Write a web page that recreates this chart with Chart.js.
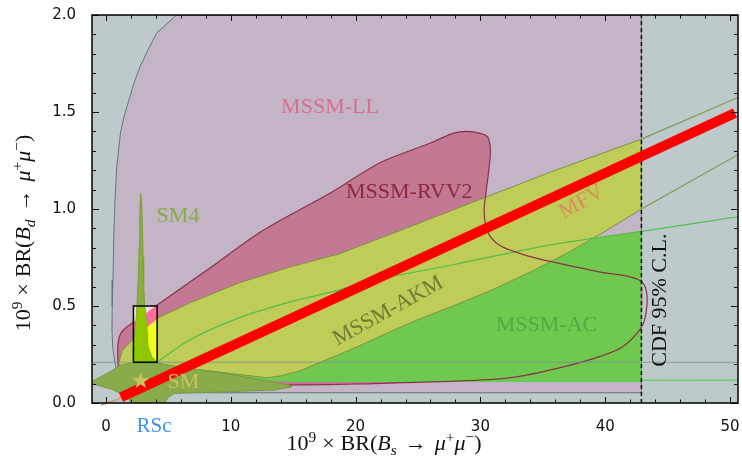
<!DOCTYPE html>
<html><head><meta charset="utf-8">
<script src="https://cdn.jsdelivr.net/npm/chart.js@4/dist/chart.umd.min.js"></script>
<style>html,body{margin:0;padding:0;background:#fff;}#wrap{width:742px;height:469px;}</style>
</head><body><div id="wrap"><canvas id="c" width="742" height="469"></canvas></div>
<script>
// ---- data (axis units: 10^9 x BR) ----
const xTicks = [0, 10, 20, 30, 40, 50];
const yTicks = [0, 0.5, 1.0, 1.5, 2.0];
const xRange = [-1.12, 50.64];
const yRange = [0, 2];
const cdfLimit = 42.9;

const llX = [42.9, 5.66, 4.06, 3.37, 2.72, 2.25, 1.84, 1.46, 1.16, 0.86, 0.72, 0.62, 0.56, 0.5, 0.48, 0.55, 0.72, 1.0, 2.5, 4.8, 5.5, 42.9];
const llY = [2.0, 2.0, 1.907, 1.82, 1.732, 1.65, 1.562, 1.48, 1.392, 1.216, 1.046, 0.84, 0.634, 0.5, 0.376, 0.28, 0.206, 0.12, 0.08, 0.06, 0.053, 0.053];

const rvvX = [1.0, 0.96, 1.3, 2.5, 4.1, 8.1, 12.6, 17.9, 22.0, 26.0, 27.8, 28.9, 30.0, 30.6, 30.8, 30.5, 30.3, 30.6, 31.6, 33.7, 35.6, 39.6, 42.0, 43.0, 43.35, 43.2, 42.8, 41.4, 39.6, 36.9, 32.9, 28.9, 20.0, 15.5, 5.0, 1.5];
const rvvY = [0.15, 0.3, 0.37, 0.43, 0.505, 0.685, 0.89, 1.08, 1.24, 1.34, 1.39, 1.40, 1.39, 1.37, 1.29, 1.11, 0.99, 0.88, 0.81, 0.76, 0.73, 0.675, 0.65, 0.62, 0.55, 0.44, 0.38, 0.29, 0.24, 0.19, 0.135, 0.115, 0.098, 0.093, 0.09, 0.1];

const mfvX = [1.0, 1.3, 2.2, 3.3, 4.2, 6.7, 10.7, 14.7, 18.75, 24.0, 30.0, 35.6, 42.9, 42.9, 40.0, 37.0, 34.0, 31.0, 28.0, 25.0, 22.5, 20.5, 18.5, 16.8, 15.5, 14.0, 12.9, 9.0, 5.0, 2.5, 1.2];
const mfvY = [0.2, 0.27, 0.33, 0.39, 0.44, 0.515, 0.62, 0.70, 0.77, 0.90, 1.05, 1.19, 1.36, 1.0, 0.885, 0.775, 0.675, 0.585, 0.505, 0.43, 0.36, 0.30, 0.245, 0.2, 0.165, 0.14, 0.13, 0.16, 0.19, 0.19, 0.19];
const mfvUpExtX = [42.9, 50.64], mfvUpExtY = [1.36, 1.575];
const mfvLoExtX = [42.9, 50.64], mfvLoExtY = [1.0, 1.28];

const acX = [4.1, 6.7, 10.7, 14.7, 17.9, 22.0, 27.6, 35.6, 42.9, 42.9, 15.0, 4.1];
const acY = [0.21, 0.325, 0.44, 0.52, 0.57, 0.64, 0.71, 0.815, 0.885, 0.108, 0.108, 0.15];
const acEdgeX = [4.1, 6.7, 10.7, 14.7, 17.9, 22.0, 27.6, 35.6, 42.9, 50.64];
const acEdgeY = [0.21, 0.325, 0.44, 0.52, 0.57, 0.64, 0.71, 0.815, 0.885, 0.96];
const acFloorX = [15.0, 50.64], acFloorY = [0.112, 0.118];

const smX = [-1.15, 0.16, 1.2, 2.0, 4.1, 5.0, 7.0, 9.2, 12.4, 14.6, 14.9, 13.5, 9.2, 5.5, 5.0, 4.6, 2.1, 1.76, 0.5, -1.15];
const smY = [0.11, 0.155, 0.196, 0.206, 0.206, 0.196, 0.175, 0.155, 0.12, 0.093, 0.083, 0.067, 0.057, 0.05, 0.03, -0.01, -0.01, 0.03, 0.07, 0.1];

const sm4X = [2.78, 2.86, 2.92, 2.97, 3.02, 3.1, 3.2, 3.27, 3.37, 3.66, 4.1, 2.2, 2.2, 2.35, 2.45, 2.52, 2.6, 2.65, 2.7, 2.74];
const sm4Y = [1.08, 1.02, 0.9, 0.75, 0.6, 0.5, 0.45, 0.39, 0.29, 0.24, 0.21, 0.21, 0.3, 0.39, 0.46, 0.55, 0.65, 0.8, 0.95, 1.04];

const rscBoxX = [2.2, 4.1], rscBoxY = [0.21, 0.5];
const expLineY = 0.21;
const fitX = [1.2, 50.4], fitY = [0.03, 1.495];
const smLineX = [-0.4, 1.2], smLineY = [-0.01, 0.025];
const rscX = 3.85;

// ---- text annotations ----
const regionLabels = [
  {t: 'MSSM-LL', x: 17.95, y: 1.525, c: '#d8708f'},
  {t: 'MSSM-RVV2', x: 24.3, y: 1.087, c: '#8b2a3a'},
  {t: 'SM4', x: 5.77, y: 0.964, c: '#88ab45'},
  {t: 'MFV', x: 38.1, y: 1.036, c: '#d88e5e', rot: -30},
  {t: 'MSSM-AKM', x: 22.6, y: 0.474, c: '#6e7c34', rot: -29},
  {t: 'MSSM-AC', x: 35.3, y: 0.40, c: '#4dab48'},
  {t: 'CDF 95% C.L.', x: 44.4, y: 0.53, c: '#111111', rot: -90},
  {t: '\u2605', x: 2.8, y: 0.108, c: '#c9c45c'},
  {t: 'SM', x: 6.2, y: 0.108, c: '#c9c45c'}
];

// ---- helpers ----
const pts = (xs, ys) => xs.map((x, i) => ({x, y: ys[i]}));
const closed = p => p.concat([p[0]]);
function clipRect(poly, x0, x1, y0, y1) {
  const edges = [
    [p => p.x >= x0, (a, b) => ({x: x0, y: a.y + (x0 - a.x) / (b.x - a.x) * (b.y - a.y)})],
    [p => p.x <= x1, (a, b) => ({x: x1, y: a.y + (x1 - a.x) / (b.x - a.x) * (b.y - a.y)})],
    [p => p.y >= y0, (a, b) => ({x: a.x + (y0 - a.y) / (b.y - a.y) * (b.x - a.x), y: y0})],
    [p => p.y <= y1, (a, b) => ({x: a.x + (y1 - a.y) / (b.y - a.y) * (b.x - a.x), y: y1})]
  ];
  let out = poly;
  for (const [inside, cut] of edges) {
    const inp = out; out = [];
    for (let i = 0; i < inp.length; i++) {
      const cur = inp[i], prev = inp[(i + inp.length - 1) % inp.length];
      const ci = inside(cur), pi = inside(prev);
      if (ci) { if (!pi) out.push(cut(prev, cur)); out.push(cur); }
      else if (pi) out.push(cut(prev, cur));
    }
  }
  return out;
}
function ds(data, o) {
  return {
    data, fill: o.fill ? 'shape' : false,
    backgroundColor: o.fill || 'rgba(0,0,0,0)',
    borderColor: o.stroke || 'rgba(0,0,0,0)',
    borderWidth: o.stroke ? (o.w || 1) : 0,
    borderDash: o.dash || [], borderCapStyle: 'butt',
    pointRadius: 0, tension: o.tension || 0, clip: o.noclip ? false : undefined
  };
}

const llPoly = pts(llX, llY);
const rvvPoly = pts(rvvX, rvvY);
const mfvPoly = pts(mfvX, mfvY);
const acPoly = pts(acX, acY);
const smPoly = pts(smX, smY);
const sm4Poly = pts(sm4X, sm4Y);
const bx = [rscBoxX[0], rscBoxX[1], rscBoxY[0], rscBoxY[1]];

const layers = [
  ds(closed(llPoly), {fill: '#c3b5c5', stroke: '#66767c', w: 1}),
  ds(closed(clipRect(rvvPoly, xRange[0], cdfLimit, -1, 3)), {fill: '#c37894', tension: 0.3}),
  ds(closed(acPoly), {fill: '#6fc94e'}),
  ds(closed(mfvPoly), {fill: '#bfcd58', stroke: '#7d9443', w: 1}),
  ds(pts(acEdgeX, acEdgeY), {stroke: '#4fbf4c', w: 1.2, tension: 0.3}),
  ds(pts(acFloorX, acFloorY), {stroke: '#5fcf5a', w: 1.2}),
  ds(pts(mfvUpExtX, mfvUpExtY), {stroke: '#7f9a45', w: 1.2}),
  ds(pts(mfvLoExtX, mfvLoExtY), {stroke: '#7f9a45', w: 1.2}),
  ds(closed(rvvPoly), {stroke: '#8a3346', w: 1.2, tension: 0.3}),
  ds(pts(xRange, [expLineY, expLineY]), {stroke: 'rgba(120,140,142,0.75)', w: 1}),
  ds(closed(smPoly), {fill: '#8aab4c', stroke: '#779a45', w: 1}),
  ds(closed(clipRect(llPoly, ...bx)), {fill: '#f6dce8'}),
  ds(closed(clipRect(rvvPoly, ...bx)), {fill: '#ff6c9b'}),
  ds(closed(clipRect(mfvPoly, ...bx)), {fill: '#f3ff1c'}),
  ds(closed(sm4Poly), {fill: '#8cae3e', stroke: '#7d9e3a', w: 1}),
  ds(closed(clipRect(sm4Poly, ...bx)), {fill: '#8fc800'}),
  ds(pts([bx[0], bx[1], bx[1], bx[0], bx[0]], [bx[2], bx[2], bx[3], bx[3], bx[2]]), {stroke: '#000', w: 1.5}),
  ds(pts([cdfLimit, cdfLimit], yRange), {stroke: '#111', w: 1.5, dash: [4, 3]}),
  ds(pts(smLineX, smLineY), {stroke: '#cf9a68', w: 1.6, noclip: true}),
  ds(pts(fitX, fitY), {stroke: '#ff0000', w: 10})
];
layers.forEach((d, i) => { d.order = layers.length - i; });

const SERIF = '"Liberation Serif", "DejaVu Serif", serif';
function drawRich(ctx, parts, size) {
  let w = 0;
  const segs = parts.map(p => {
    if (p.g) { w += p.g; return {g: p.g}; }
    const s = p.pos ? size * 0.7 : size;
    const f = (p.it ? 'italic ' : '') + s + 'px ' + SERIF;
    ctx.font = f;
    const m = ctx.measureText(p.t).width;
    w += m;
    return {t: p.t, f, m, dy: p.pos === 'sup' ? -size * 0.38 : p.pos === 'sub' ? size * 0.22 : 0};
  });
  let x = -w / 2;
  for (const s of segs) {
    if (s.g) { x += s.g; continue; }
    ctx.font = s.f; ctx.fillText(s.t, x, s.dy); x += s.m;
  }
}
const titleParts = sub => [
  {t: '10'}, {t: '9', pos: 'sup'}, {g: 6}, {t: '\u00d7'}, {g: 6}, {t: 'BR('}, {t: 'B', it: true}, {t: sub, it: true, pos: 'sub'},
  {g: 8}, {t: '\u2192'}, {g: 8}, {t: '\u03bc', it: true}, {t: '+', pos: 'sup'}, {t: '\u03bc', it: true}, {t: '\u2212', pos: 'sup'}, {t: ')'}
];

const decor = {
  id: 'decor',
  beforeDatasetsDraw(chart) {
    const {ctx, chartArea: a} = chart;
    ctx.save(); ctx.fillStyle = '#bdc9cb'; ctx.fillRect(a.left, a.top, a.right - a.left, a.bottom - a.top); ctx.restore();
  },
  afterDatasetsDraw(chart) {
    const {ctx, scales: {x, y}} = chart;
    ctx.save();
    ctx.textAlign = 'center'; ctx.textBaseline = 'middle';
    for (const L of regionLabels) {
      ctx.save();
      ctx.translate(x.getPixelForValue(L.x), y.getPixelForValue(L.y));
      if (L.rot) ctx.rotate(L.rot * Math.PI / 180);
      ctx.fillStyle = L.c;
      ctx.font = '22px ' + SERIF;
      ctx.fillText(L.t, 0, 0);
      ctx.restore();
    }
    ctx.restore();
  },
  afterDraw(chart) {
    const {ctx, chartArea: a, scales: {x, y}} = chart;
    ctx.save();
    ctx.strokeStyle = '#111'; ctx.lineWidth = 1;
    ctx.beginPath();
    for (let v = 0; v <= 50; v += 2) {
      const px = Math.round(x.getPixelForValue(v)) + 0.5;
      const len = v % 10 === 0 ? 6 : 3.5;
      ctx.moveTo(px, a.bottom); ctx.lineTo(px, a.bottom - len);
      ctx.moveTo(px, a.top); ctx.lineTo(px, a.top + len);
    }
    for (let i = 0; i <= 20; i++) {
      const py = Math.round(y.getPixelForValue(i / 10)) + 0.5;
      const len = i % 5 === 0 ? 7 : 4;
      ctx.moveTo(a.left, py); ctx.lineTo(a.left + len, py);
      ctx.moveTo(a.right, py); ctx.lineTo(a.right - len, py);
    }
    ctx.stroke();
    ctx.lineWidth = 1.5; ctx.strokeStyle = '#000';
    ctx.strokeRect(a.left, a.top, a.right - a.left, a.bottom - a.top);
    ctx.fillStyle = '#111'; ctx.textBaseline = 'alphabetic'; ctx.textAlign = 'left';
    ctx.save(); ctx.translate(384, 450); drawRich(ctx, titleParts('s'), 22); ctx.restore();
    ctx.save(); ctx.translate(30, 233); ctx.rotate(-Math.PI / 2); drawRich(ctx, titleParts('d'), 22); ctx.restore();
    ctx.fillStyle = '#3f8ff0'; ctx.textAlign = 'center'; ctx.textBaseline = 'middle';
    ctx.font = '21px ' + SERIF;
    ctx.fillText('RSc', x.getPixelForValue(rscX), 426);
    ctx.restore();
  }
};

new Chart(document.getElementById('c'), {
  type: 'line',
  data: {datasets: layers},
  options: {
    responsive: false, animation: false, events: [], devicePixelRatio: 1,
    layout: {padding: {top: 15, right: 4, left: 0, bottom: 0}},
    plugins: {legend: {display: false}, tooltip: {enabled: false}},
    scales: {
      x: {
        type: 'linear', min: xRange[0], max: xRange[1],
        afterBuildTicks: s => { s.ticks = xTicks.map(v => ({value: v})); },
        afterFit: s => { s.height = 66; s.paddingLeft = 0; s.paddingRight = 0; },
        grid: {display: false, drawTicks: false}, border: {display: false},
        ticks: {padding: 15, color: '#111', font: {family: '"DejaVu Sans"', size: 15}, maxRotation: 0}
      },
      y: {
        type: 'linear', min: yRange[0], max: yRange[1],
        afterBuildTicks: s => { s.ticks = yTicks.map(v => ({value: v})); },
        afterFit: s => { s.width = 92; s.paddingTop = 0; s.paddingBottom = 0; },
        grid: {display: false, drawTicks: false}, border: {display: false},
        ticks: {padding: 16, color: '#111', font: {family: '"DejaVu Sans"', size: 15}, callback: v => Number(v).toFixed(1)}
      }
    }
  },
  plugins: [decor]
});
</script></body></html>
